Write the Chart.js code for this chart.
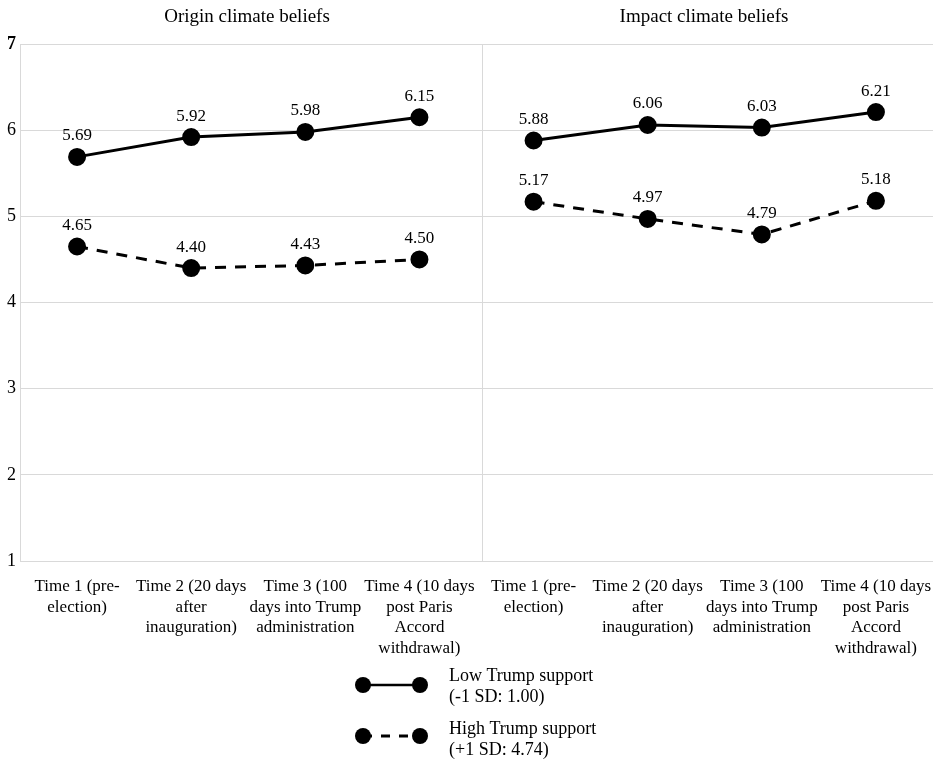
<!DOCTYPE html>
<html><head><meta charset="utf-8">
<script src="https://cdn.jsdelivr.net/npm/chart.js@4"></script>
<style>html,body{margin:0;padding:0;background:#fff}#wrap{width:935px;height:762px}</style>
</head><body><div id="wrap"><canvas id="c"></canvas></div>
<script>
const panelTitles = ["Origin climate beliefs", "Impact climate beliefs"];
const timeLabels = [
  ["Time 1 (pre-", "election)"],
  ["Time 2 (20 days", "after", "inauguration)"],
  ["Time 3 (100", "days into Trump", "administration"],
  ["Time 4 (10 days", "post Paris", "Accord", "withdrawal)"]
];
const originLow = [5.69, 5.92, 5.98, 6.15];
const originHigh = [4.65, 4.40, 4.43, 4.50];
const impactLow = [5.88, 6.06, 6.03, 6.21];
const impactHigh = [5.17, 4.97, 4.79, 5.18];
const legendLow = ["Low Trump support", "(-1 SD: 1.00)"];
const legendHigh = ["High Trump support", "(+1 SD: 4.74)"];
const yTicks = [1, 2, 3, 4, 5, 6, 7];

const FONT = "'Liberation Serif', 'Times New Roman', serif";
const N = timeLabels.length;
const labels = timeLabels.concat(timeLabels);
const pad = (arr, panel) => panel === 0 ? arr.concat(Array(N).fill(null)) : Array(N).fill(null).concat(arr);

function ds(data, dashed) {
  return {
    data: data, borderColor: '#000', backgroundColor: '#000', borderWidth: 3,
    borderDash: dashed ? [11, 9] : [], pointRadius: 7.5, pointHoverRadius: 7.5,
    pointBackgroundColor: '#000', pointBorderColor: '#000', tension: 0, spanGaps: false
  };
}

const extras = {
  id: 'extras',
  beforeDatasetsDraw(chart) {
    const ctx = chart.ctx, ca = chart.chartArea, xs = chart.scales.x;
    const sep = (xs.getPixelForValue(N - 1) + xs.getPixelForValue(N)) / 2 + 5;
    ctx.save();
    ctx.strokeStyle = '#d9d9d9'; ctx.lineWidth = 1;
    ctx.beginPath(); ctx.moveTo(Math.round(sep) + 0.5, ca.top); ctx.lineTo(Math.round(sep) + 0.5, ca.bottom); ctx.stroke();
    ctx.restore();
  },
  afterDraw(chart) {
    const ctx = chart.ctx;
    ctx.save();
    // titles
    ctx.fillStyle = '#000'; ctx.font = '19px ' + FONT; ctx.textAlign = 'center'; ctx.textBaseline = 'middle';
    ctx.fillText(panelTitles[0], 247, 17);
    ctx.fillText(panelTitles[1], 704, 17);
    // data labels
    ctx.font = '17px ' + FONT; ctx.textBaseline = 'middle';
    chart.data.datasets.forEach((d, di) => {
      const meta = chart.getDatasetMeta(di);
      d.data.forEach((v, i) => {
        if (v == null) return;
        const p = meta.data[i];
        ctx.fillText(v.toFixed(2), p.x, p.y - 21);
      });
    });
    // legend
    const items = [[legendLow, false, 685, 676], [legendHigh, true, 736, 729]];
    items.forEach(([txt, dashed, y, ty]) => {
      const x1 = 363, x2 = 420;
      ctx.strokeStyle = '#000'; ctx.lineWidth = dashed ? 3 : 2.5;
      ctx.setLineDash(dashed ? [9, 9] : []);
      ctx.beginPath(); ctx.moveTo(x1, y); ctx.lineTo(x2, y); ctx.stroke();
      ctx.setLineDash([]);
      ctx.fillStyle = '#000';
      [x1, x2].forEach(x => { ctx.beginPath(); ctx.arc(x, y, 8, 0, Math.PI * 2); ctx.fill(); });
      ctx.textAlign = 'left'; ctx.textBaseline = 'middle'; ctx.font = '18px ' + FONT;
      ctx.fillText(txt[0], 449, ty);
      ctx.fillText(txt[1], 449, ty + 21);
    });
    ctx.restore();
  }
};

new Chart(document.getElementById('c'), {
  type: 'line',
  data: {
    labels: labels,
    datasets: [
      ds(pad(originLow, 0), false), ds(pad(originHigh, 0), true),
      ds(pad(impactLow, 1), false), ds(pad(impactHigh, 1), true)
    ]
  },
  options: {
    responsive: true, maintainAspectRatio: false, animation: false,
    devicePixelRatio: 1,
    layout: { autoPadding: false, padding: { top: 44, bottom: 101, left: 0, right: 2 } },
    plugins: { legend: { display: false }, tooltip: { enabled: false } },
    scales: {
      x: {
        offset: true,
        grid: { display: false },
        border: { display: false },
        ticks: { color: '#000', font: { family: FONT, size: 17, lineHeight: 1.22 }, maxRotation: 0, autoSkip: false, padding: 7 },
        afterFit(s) { s.height = 100; s.paddingLeft = 0; s.paddingRight = 0; }
      },
      y: {
        min: 1, max: 7,
        afterBuildTicks(s) { s.ticks = yTicks.map(v => ({ value: v })); },
        grid: { color: '#d9d9d9', drawTicks: false },
        border: { color: '#d9d9d9' },
        ticks: {
          color: '#000', padding: 4,
          font: ctx => ({ family: FONT, size: 18, weight: ctx.tick && ctx.tick.value === 7 ? 'bold' : 'normal' })
        },
        afterFit(s) { s.width = 20; s.paddingTop = 0; s.paddingBottom = 0; }
      }
    }
  },
  plugins: [extras]
});
</script></body></html>
